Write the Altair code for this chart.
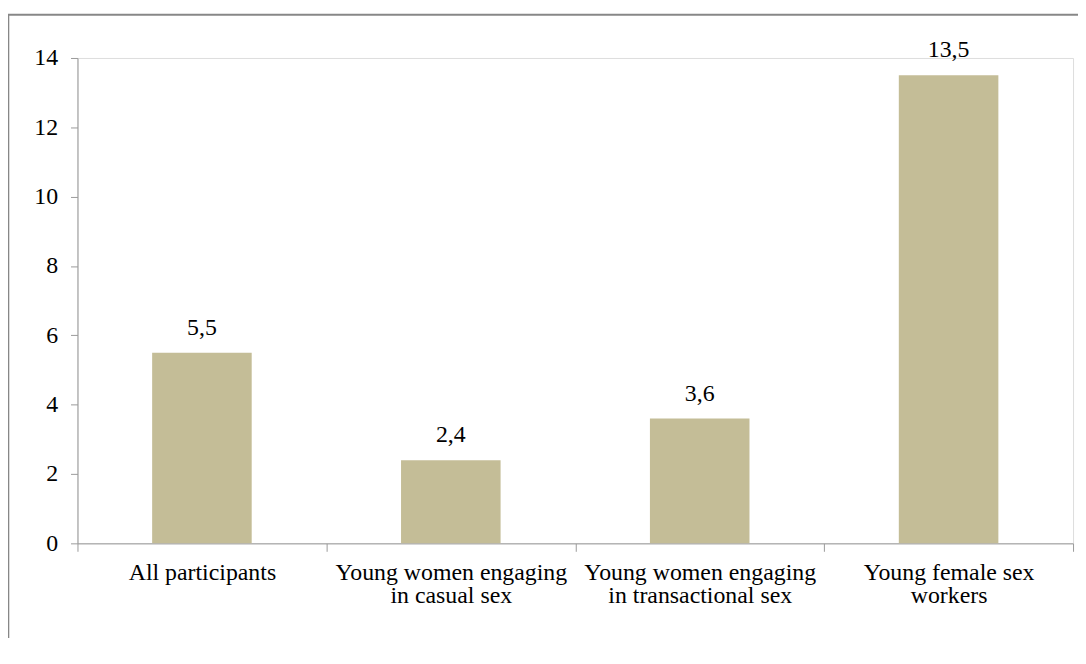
import altair as alt
import pandas as pd

categories = [
    "All participants",
    "Young women engaging\nin casual sex",
    "Young women engaging\nin transactional sex",
    "Young female sex\nworkers",
]
values = [5.5, 2.4, 3.6, 13.5]
y_ticks = [0, 2, 4, 6, 8, 10, 12, 14]

df = pd.DataFrame({"category": categories, "value": values})

FONT = "Liberation Serif, Times New Roman, DejaVu Serif, serif"
AXIS_GRAY = "#9a9a9a"

x_enc = alt.X(
    "category:N",
    sort=categories,
    title=None,
    scale=alt.Scale(paddingInner=0, paddingOuter=0),
    axis=alt.Axis(
        labelAngle=0,
        labelExpr="split(datum.label, '\\n')",
        labelFont=FONT,
        labelFontSize=24,
        labelColor="#000000",
        labelLineHeight=24,
        labelPadding=9,
        labelBaseline="top",
        tickBand="extent",
        tickSize=8,
        tickColor=AXIS_GRAY,
        domainColor=AXIS_GRAY,
        labelLimit=400,
    ),
)

y_enc = alt.Y(
    "value:Q",
    title=None,
    scale=alt.Scale(domain=[0, 14], nice=False),
    axis=alt.Axis(
        values=y_ticks,
        grid=False,
        labelFont=FONT,
        labelFontSize=24,
        labelColor="#000000",
        labelPadding=13,
        tickSize=7,
        tickColor=AXIS_GRAY,
        domainColor=AXIS_GRAY,
    ),
)

base = alt.Chart(df)

bars = base.mark_bar(color="#c4bd97", width=alt.RelativeBandSize(0.4)).encode(
    x=x_enc, y=y_enc
)

text = (
    base.transform_calculate(
        lbl="replace(format(datum.value, '.1f'), '.', ',')"
    )
    .mark_text(font=FONT, fontSize=24, color="#000000", baseline="alphabetic", dy=-18)
    .encode(x=alt.X("category:N", sort=categories), y="value:Q", text="lbl:N")
)

frame_df = pd.DataFrame({"a": [0]})
left_border = alt.Chart(frame_df).mark_rule(color="#878787", strokeWidth=2).encode(
    x=alt.value(-69.7), y=alt.value(-44), y2=alt.value(700)
)
top_border = alt.Chart(frame_df).mark_rule(color="#878787", strokeWidth=2).encode(
    x=alt.value(-70.7), x2=alt.value(1200), y=alt.value(-43.5)
)

chart = (
    alt.layer(bars, text, left_border, top_border)
    .properties(
        width=1003,
        height=489,
        autosize=alt.AutoSizeParams(type="none"),
        padding={"left": 70, "top": 48, "right": 5, "bottom": 93},
    )
    .configure_view(stroke=None)
    .configure(background="#ffffff", font=FONT)
)

chart.save("out.html", embed_options={"renderer": "svg", "actions": False})
